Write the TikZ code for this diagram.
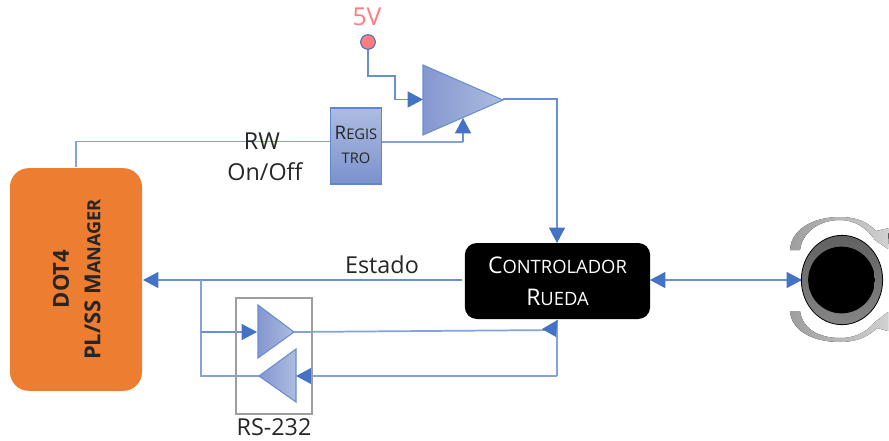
\documentclass[tikz,border=0pt]{standalone}
\usepackage{fontspec}
\setmainfont{Open Sans}
\usetikzlibrary{arrows.meta,calc,shapes.geometric}
\definecolor{lnblue}{HTML}{4472C4}
\definecolor{lnmid}{HTML}{6A90D4}
\definecolor{lnlight}{HTML}{84A3DC}
\definecolor{tridark}{HTML}{8497CF}
\definecolor{trilight}{HTML}{ADBCE0}
\definecolor{dotorange}{HTML}{ED7D31}
\definecolor{fivev}{HTML}{FF7C80}
\definecolor{txt}{HTML}{262626}
\newcommand{\fs}[1]{\fontsize{#1}{#1}\selectfont}
\pgfdeclareradialshading{knobshade}{\pgfpoint{0bp}{0bp}}{
 color(0bp)=(black); color(30bp)=(black); color(40bp)=(black!82); color(50bp)=(black!58)}
\tikzset{
 x=0.75pt,y=-0.75pt,
 wire/.style={draw=lnmid,line width=0.8pt},
 softwire/.style={draw=lnlight,line width=1.3pt},
 head/.style={-{Triangle[length=11.5pt,width=12pt,fill=lnblue,color=lnblue]}},
 heads/.style={{Triangle[length=11.5pt,width=12pt,fill=lnblue,color=lnblue]}-{Triangle[length=11.5pt,width=12pt,fill=lnblue,color=lnblue]}},
 tri/.style={draw=lnblue!80,line width=0.8pt,left color=tridark,right color=trilight},
 label/.style={text=txt,inner sep=0pt,align=center},
}
\begin{document}
\begin{tikzpicture}
\useasboundingbox (0,0) rectangle (889,440);
% coordinates
\coordinate (pow) at (368,42);
\coordinate (ampL) at (423,99.5);
\coordinate (ampB) at (463,118);
\coordinate (ampR) at (503,99);
\coordinate (ctrlT) at (557,243);
\coordinate (dotT) at (76,167);
\coordinate (dotR) at (143,280);
\coordinate (ctrlL) at (462,280);
\coordinate (ctrlR) at (650,280);
\coordinate (knobL) at (802,280);
\coordinate (junc) at (201,280);
\coordinate (t1L) at (257,332);
\coordinate (t1R) at (294,332);
\coordinate (t2L) at (259,376);
\coordinate (t2R) at (296,376);
\coordinate (ctrlB) at (557,320);

% Blocks
\node[draw=none,fill=dotorange,rounded corners=14pt,minimum width=99pt,minimum height=167pt,inner sep=0pt] (dot) at (76,279.5) {};
\node[label,rotate=90,font=\fs{16.5}\bfseries] (dotlabel) at (61,279) {DOT4};
\node[label,rotate=90,font=\fs{16.5}\bfseries] (pllabel) at (92.5,279.5) {PL/SS M{\fs{13.6}ANAGER}};
\node[fill=black,rounded corners=9pt,minimum width=139pt,minimum height=57pt,inner sep=0pt] (ctrl) at (557.5,281) {};
\node[text=white,inner sep=0pt,align=center,font=\fs{17.2}] (ctrllabel) at (557.5,281.5) {C{\fs{13.8}ONTROLADOR}\\[7pt]R{\fs{13.8}UEDA}};

% Wires
\draw[wire] (pow) -- (368,76) -- (395,76) -- (395,99.5);
\draw[wire,head] (395,99.5) -- (ampL);
\draw[softwire] (dotT) -- (76,141.5) -- (330,141.5);
\draw[softwire] (382,142) -- (463,142);
\draw[wire,head] (463,142) -- (ampB);
\draw[wire,head] (ampR) -- (557,99) -- (ctrlT);
\draw[wire,head] (ctrlL) -- (dotR);
\draw[wire,heads] (ctrlR) -- (knobL);
\draw[softwire] (junc) -- (201,376) -- (t2L);
\draw[wire,head] (201,332) -- (t1L);
\draw[softwire] (t1R) -- (557,330);
\draw[softwire,head] (557,376) -- (t2R);
\draw[softwire] (ctrlB) -- (557,376);
\fill[lnblue] (557.5,320) -- (556,337) -- (542,329) -- cycle;

% register
\node[draw=lnblue!85,line width=1pt,top color=trilight,bottom color=tridark!85!lnblue,minimum width=38pt,minimum height=57pt,inner sep=0pt] (reg) at (356,146) {};
\node[label,font=\fs{14}] (reglabel) at (356,145) {R{\fs{11}EGIS}\\[4pt]{\fs{11}TRO}};

% triangles
\path[tri] (423,65) -- (503,100) -- (423,135) -- cycle;
\path[tri] (258,305) -- (294,332) -- (258,358) -- cycle;
\path[tri] (296,349) -- (259,376) -- (296,402) -- cycle;

% rs232 box
\node[draw=black!38,line width=1.8pt,minimum width=57pt,minimum height=87pt,inner sep=0pt] (rs) at (274,356) {};
\node[label,font=\fs{17.5}] (rslabel) at (274,427) {RS-232};

% power
\node[circle,draw=lnblue,fill=fivev,line width=0.8pt,minimum size=11pt,inner sep=0pt] (pnode) at (pow) {};
\node[text=fivev,inner sep=0pt,font=\fs{18.5}] (fivelabel) at (367,17) {5V};

% labels
\node[label,font=\fs{17.5}] (rw) at (262,141) {RW};
\node[label,font=\fs{17.5}] (onoff) at (265,172) {On/Off};
\node[label,font=\fs{17.5}] (estado) at (382,265) {Estado};

% knob rings
\fill[left color=black!38,right color=black!18] (790,250) .. controls (791,230) and (812,217) .. (840,217) .. controls (856,217) and (868,222) .. (876,231) -- (889,228) -- (888,249) -- (875,240) .. controls (866,227) and (854,220) .. (840,220) .. controls (818,220) and (802,233) .. (800,250) -- cycle;
\fill[left color=black!38,right color=black!18] (790,311) .. controls (791,330) and (812,342) .. (840,342) .. controls (856,342) and (868,337) .. (877,328) -- (888,331) -- (888,312) -- (875,322) .. controls (866,333) and (854,338) .. (840,338) .. controls (818,338) and (802,328) .. (800,311) -- cycle;
% knob
\node[ellipse,draw=black,line width=0.6pt,top color=black!62,bottom color=black!48,minimum width=61pt,minimum height=67pt,inner sep=0pt] (knob) at (842,280) {};
\node[circle,shading=knobshade,minimum size=50pt,inner sep=0pt] (knobcore) at (841.5,280) {};
\end{tikzpicture}
\end{document}
